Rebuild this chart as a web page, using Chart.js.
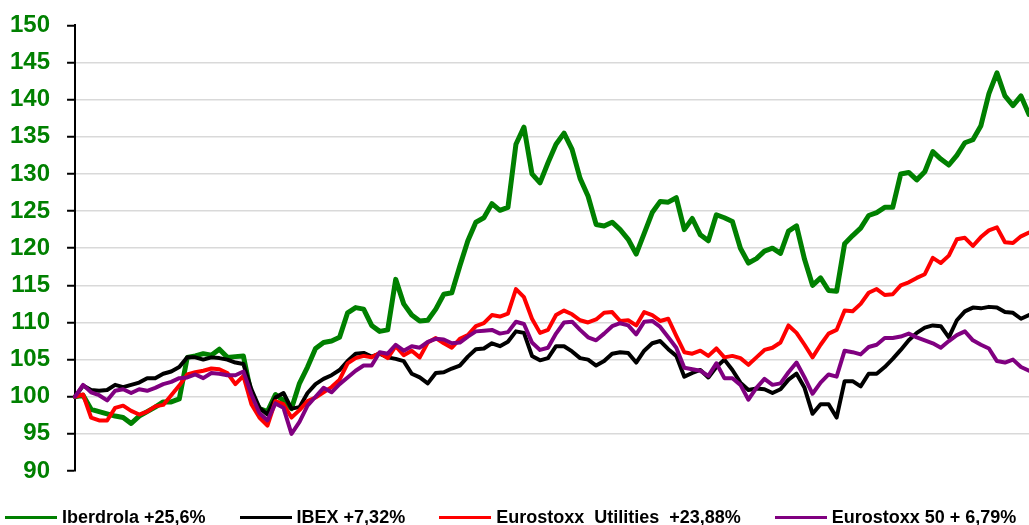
<!DOCTYPE html>
<html lang="es">
<head>
<meta charset="utf-8">
<title>Iberdrola vs índices</title>
<script src="https://cdn.jsdelivr.net/npm/chart.js@4.4.1/dist/chart.umd.min.js"></script>
<style>
  html, body { margin: 0; padding: 0; background: #fff; overflow: hidden; }
  #wrap { position: relative; width: 1029px; height: 525px; overflow: hidden; }
  #chart { display: block; margin-top: -6px; }
  #legend {
    position: absolute; left: 5px; top: 507px; height: 20px;
    display: flex; align-items: center; gap: 34px;
    font: bold 18px "Liberation Sans", Arial, sans-serif; color: #000;
    white-space: pre;
  }
  #legend .item { display: flex; align-items: center; }
  #legend .swatch { display: inline-block; width: 52px; height: 3px; margin-right: 5px; }
</style>
</head>
<body>
<div id="wrap">
  <canvas id="chart" width="1029" height="525"></canvas>
  <div id="legend"></div>
</div>
<script>
// Base 100, cotización diaria (muestreada)
const sessions = Array.from({ length: 120 }, (_, i) => i + 1);

const iberdrola = [
  100, 100.2, 98.3, 98, 97.7, 97.4, 97.2, 96.4, 97.4, 98,
  98.6, 99.3, 99.3, 99.7, 105.3, 105.5, 105.8, 105.6, 106.4, 105.3,
  105.4, 105.5, 100.2, 98.4, 98, 100.3, 99.5, 98.4, 101.8, 104,
  106.5, 107.3, 107.5, 108, 111.3, 112, 111.8, 109.6, 108.8, 109,
  115.8, 112.5, 111, 110.2, 110.3, 111.8, 113.8, 114, 117.6, 121,
  123.5, 124.1, 126, 125.1, 125.5, 134, 136.3, 130, 128.8, 131.5,
  134, 135.5, 133.3, 129.4, 127, 123.2, 123, 123.5, 122.5, 121.2,
  119.2, 122, 124.8, 126.3, 126.2, 126.8, 122.5, 124, 121.8, 121,
  124.5, 124.1, 123.6, 120, 118, 118.6, 119.6, 120, 119.3, 122.3,
  123, 118.5, 115, 116, 114.3, 114.2, 120.6, 121.7, 122.7, 124.4,
  124.8, 125.5, 125.5, 130, 130.2, 129.2, 130.3, 133, 132, 131.2,
  132.5, 134.2, 134.6, 136.5, 140.8, 143.6, 140.5, 139.2, 140.5, 138
];

const ibex = [
  100, 101.5, 100.9, 100.8, 100.9, 101.6, 101.3, 101.6, 101.9, 102.5,
  102.5, 103.1, 103.4, 104, 105.3, 105.3, 105, 105.3, 105.2, 105,
  104.6, 104.4, 101, 98.5, 97.6, 99.9, 100.5, 98.4, 98.6, 100.5,
  101.7, 102.4, 102.9, 103.6, 104.8, 105.8, 105.9, 105.4, 105.8, 105.3,
  105.1, 104.8, 103.1, 102.6, 101.8, 103.2, 103.3, 103.8, 104.2, 105.4,
  106.4, 106.5, 107.2, 106.8, 107.4, 108.8, 108.6, 105.5, 104.9, 105.2,
  106.8, 106.8, 106.1, 105.2, 105, 104.2, 104.8, 105.8, 106, 105.9,
  104.6, 106.2, 107.2, 107.5, 106.4, 105.5, 102.7, 103.2, 103.6, 102.6,
  104, 105, 103.6, 101.9, 100.9, 101.1, 101, 100.5, 101, 102.3,
  103.1, 101.2, 97.7, 99, 99, 97.2, 102.1, 102.1, 101.4, 103.1,
  103.1, 104, 105.1, 106.3, 107.6, 108.6, 109.3, 109.6, 109.5, 108,
  110.3, 111.5, 112, 111.9, 112.1, 112, 111.4, 111.3, 110.5, 111
];

const utilities = [
  100, 100.3, 97.2, 96.8, 96.8, 98.5, 98.8, 98.1, 97.6, 98,
  98.7, 98.9, 100.2, 101.5, 103, 103.3, 103.5, 103.8, 103.7, 103.2,
  101.7, 102.8, 99, 97.2, 96.1, 99.4, 99, 97.2, 98.2, 99.4,
  99.9, 100.6, 101.3, 102.3, 104.5, 105.2, 105.5, 105.3, 105.9, 105.2,
  106.8, 105.6, 106.2, 105.3, 107.3, 107.9, 107.2, 106.6, 107.8, 108.3,
  109.5, 109.9, 111, 110.8, 111.2, 114.5, 113.4, 110.5, 108.6, 109,
  111, 111.6, 111.1, 110.3, 110, 110.4, 111.3, 111.4, 110.2, 110.3,
  109.6, 111.4, 111, 110.2, 110.5, 108.2, 106, 105.8, 106.2, 105.5,
  106.5, 105.3, 105.5, 105.2, 104.3, 105.3, 106.3, 106.6, 107.3, 109.6,
  108.6, 107, 105.3, 107, 108.5, 109, 111.6, 111.5, 112.5, 114,
  114.5, 113.7, 113.8, 115, 115.4, 116, 116.5, 118.7, 118, 119,
  121.2, 121.4, 120.3, 121.5, 122.4, 122.8, 120.8, 120.7, 121.6, 122.1
];

const eurostoxx50 = [
  100, 101.6, 100.6, 100.2, 99.5, 100.8, 101, 100.5, 101, 100.8,
  101.2, 101.7, 102, 102.5, 102.6, 103, 102.5, 103.2, 103.1, 102.9,
  102.9, 103.4, 100.3, 97.8, 96.8, 99.1, 98.5, 95, 96.6, 98.8,
  100, 101.2, 100.6, 101.7, 102.6, 103.5, 104.2, 104.2, 106, 105.8,
  107, 106.2, 106.8, 106.6, 107.4, 107.8, 107.7, 107.2, 107.3, 108.1,
  108.8, 108.9, 109, 108.5, 108.7, 110.1, 109.8, 107.3, 106.3, 106.6,
  108.5, 110, 110.1, 109, 108, 107.6, 108.5, 109.5, 109.9, 109.6,
  108.4, 110.1, 110.2, 109.4, 108, 106.6, 103.9, 103.7, 103.5, 102.8,
  104.5, 102.5, 102.5, 101.6, 99.6, 101.2, 102.4, 101.6, 101.8, 103.3,
  104.6, 102.6, 100.4, 101.9, 103, 102.7, 106.2, 106, 105.7, 106.7,
  107, 107.9, 107.9, 108.1, 108.5, 108, 107.6, 107.2, 106.6, 107.5,
  108.3, 108.8, 107.6, 107, 106.5, 104.8, 104.6, 105, 104, 103.5
];

const seriesNames = ['Iberdrola +25,6%', 'IBEX +7,32%', 'Eurostoxx  Utilities  +23,88%', 'Eurostoxx 50 + 6,79%'];
const seriesColors = ['#008000', '#000000', '#ff0000', '#800080'];
const yTicks = { min: 90, max: 150, step: 5 };

const fontFamily = '"Liberation Sans", Arial, sans-serif';
const allSeries = [iberdrola, ibex, utilities, eurostoxx50];

const datasets = allSeries.map((values, i) => ({
    label: seriesNames[i],
    data: values,
    borderColor: seriesColors[i],
    backgroundColor: seriesColors[i],
    borderWidth: i === 0 ? 5 : 4,
    order: 4 - i // la última serie queda encima
}));

const ctx = document.getElementById('chart').getContext('2d');

const chart = new Chart(ctx, {
    type: 'line',
    data: { labels: sessions, datasets: datasets },
    options: {
        responsive: false,
        animation: false,
        layout: { padding: { left: -7, top: 19, bottom: 48, right: 0 } },
        elements: {
            point: { radius: 0, hoverRadius: 0 },
            line: { tension: 0, borderJoinStyle: 'round', borderCapStyle: 'round' }
        },
        plugins: {
            legend: { display: false },
            tooltip: { enabled: false }
        },
        scales: {
            x: { display: false },
            y: {
                min: yTicks.min,
                max: yTicks.max,
                ticks: {
                    stepSize: yTicks.step,
                    color: '#008000',
                    padding: 17,
                    font: { family: fontFamily, size: 24, weight: 'bold' }
                },
                grid: {
                    // sin línea de rejilla en los extremos
                    color: c => (c.tick && (c.tick.value === yTicks.min || c.tick.value === yTicks.max)) ? 'rgba(0,0,0,0)' : '#d9d9d9',
                    lineWidth: 1.5,
                    tickColor: '#000',
                    tickLength: 8,
                    tickWidth: 2
                },
                border: { color: '#000', width: 2 }
            }
        }
    }
});

// Leyenda abajo, en HTML
const legend = document.getElementById('legend');
chart.data.datasets.forEach(ds => {
    const item = document.createElement('span');
    item.className = 'item';
    const swatch = document.createElement('span');
    swatch.className = 'swatch';
    swatch.style.background = ds.borderColor;
    const text = document.createElement('span');
    text.textContent = ds.label;
    item.appendChild(swatch);
    item.appendChild(text);
    legend.appendChild(item);
});
</script>
</body>
</html>
